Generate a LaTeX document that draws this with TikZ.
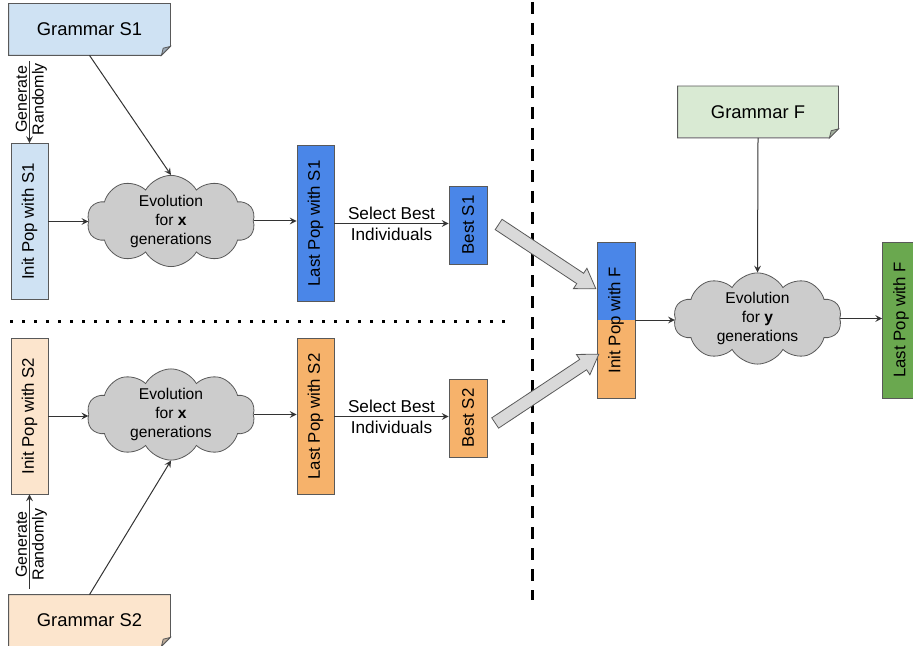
\documentclass[tikz,border=0pt]{standalone}
\usepackage{fontspec}
\usepackage{graphicx}
\setmainfont{Liberation Sans}
\usetikzlibrary{shapes.symbols,shapes.arrows}

\definecolor{blueL}{HTML}{CFE2F3}
\definecolor{orangeL}{HTML}{FCE5CD}
\definecolor{greenL}{HTML}{D9EAD3}
\definecolor{blueM}{HTML}{4A86E8}
\definecolor{orangeM}{HTML}{F6B26B}
\definecolor{greenM}{HTML}{6AA84F}
\definecolor{cloudgray}{HTML}{CCCCCC}
\definecolor{fatgray}{HTML}{D9D9D9}
\definecolor{edge}{HTML}{595959}

\begin{document}
\begin{tikzpicture}[x=0.5pt,y=-0.5pt,>=stealth,
  grammar/.style={minimum width=80.5pt,minimum height=25.5pt,inner sep=0pt,font=\fontsize{9.2}{11}\selectfont},
  pop/.style={draw=edge,minimum width=18.5pt,minimum height=78pt,inner sep=0pt,font=\fontsize{8.4}{10}\selectfont},
  best/.style={pop,minimum width=19pt,minimum height=39pt},
  evo/.style={cloud,draw=edge,fill=cloudgray,cloud puffs=10,cloud puff arc=120,cloud ignores aspect,
    minimum width=84pt,minimum height=42.5pt,inner sep=0pt,align=center,font=\fontsize{7.8}{9.5}\selectfont},
  link/.style={->,draw=black!80,line width=0.5pt},
  fat/.style={single arrow,draw=edge,fill=fatgray,inner xsep=0pt,inner ysep=2.9pt,single arrow head extend=3pt,
    single arrow tip angle=66,sloped,midway},
  pick/.style={align=center,font=\fontsize{8.6}{10.4}\selectfont},
  gen/.style={inner sep=1pt,font=\fontsize{8}{9.6}\selectfont}
]
\useasboundingbox (0,0) rectangle (913,646);

% The grammars
\node[grammar,fill=blueL] (gs1) at (89.5,29.5) {Grammar S1};
\node[grammar,fill=orangeL] (gs2) at (89.5,620.5) {Grammar S2};
\node[grammar,fill=greenL,minimum width=80pt] (gf) at (758,112) {Grammar F};

\foreach \g/\c in {gs1/blueL,gs2/orangeL,gf/greenL}
{
	\fill[white] ([xshift=-4.5pt]\g.south east) -- (\g.south east) -- ([yshift=4.5pt]\g.south east) -- cycle;
	\draw[edge] (\g.north west) -- (\g.north east) -- ([yshift=4.5pt]\g.south east)
		-- ([xshift=-4.5pt]\g.south east) -- (\g.south west) -- cycle;
	\filldraw[draw=edge,fill=\c!75!black] ([yshift=4.5pt]\g.south east) -- ([xshift=-4.5pt]\g.south east)
		-- ([xshift=-3.6pt,yshift=3.6pt]\g.south east) -- cycle;
}

% Upper run with S1
\node[pop,fill=blueL] (ips1) at (29.5,221.5) {\rotatebox{90}{Init Pop with S1}};
\node[evo] (cl1) at (171,221) {Evolution\\for \textbf{x}\\generations};
\node[pop,fill=blueM] (lps1) at (315.5,223.5) {\rotatebox{90}{Last Pop with S1}};
\node[best,fill=blueM] (bs1) at (468,225) {\rotatebox{90}{Best S1}};

% Lower run with S2
\node[pop,fill=orangeL] (ips2) at (29.5,416) {\rotatebox{90}{Init Pop with S2}};
\node[evo] (cl2) at (171,414.5) {Evolution\\for \textbf{x}\\generations};
\node[pop,fill=orangeM] (lps2) at (315.5,416.5) {\rotatebox{90}{Last Pop with S2}};
\node[best,fill=orangeM] (bs2) at (468,418) {\rotatebox{90}{Best S2}};

% Final run with F
\node[fill=blueM,minimum width=19pt,minimum height=39pt,inner sep=0pt] (ipfa) at (616,281) {};
\node[fill=orangeM,minimum width=19pt,minimum height=39pt,inner sep=0pt] (ipfb) at (616,359) {};
\node[pop,minimum width=19pt] (ipf) at (616,320) {\rotatebox{90}{Init Pop with F}};
\node[evo] (cl3) at (757.5,318.5) {Evolution\\for \textbf{y}\\generations};
\node[pop,fill=greenM] (lpf) at (901,320) {\rotatebox{90}{Last Pop with F}};

% The separators
\draw[line width=1.5pt,dash pattern=on 6pt off 4.5pt] (532,2) -- (532,600);
\draw[line width=1.5pt,dash pattern=on 1.5pt off 4.5pt] (10,321) -- (512,321);

% Generate randomly
\draw[link,shorten <=3pt] (gs1.south -| ips1) -- (ips1)
	node[gen,midway,left] {\rotatebox{90}{Generate}}
	node[gen,midway,right] {\rotatebox{90}{Randomly}};
\draw[link,shorten <=3pt] (gs2.north -| ips2) -- (ips2)
	node[gen,midway,left] {\rotatebox{90}{Generate}}
	node[gen,midway,right] {\rotatebox{90}{Randomly}};

% Grammars into the evolution
\draw[link] (gs1.south) -- (cl1.north);
\draw[link] (gs2.north) -- (cl2.south);
\draw[link] (gf.south) -- (cl3.north);

% The flow
\draw[link] (ips1.east) -- (ips1.east -| cl1.west);
\draw[link] (cl1.east) -- (cl1.east -| lps1.west);
\draw[link] (lps1.east) -- (lps1.east -| bs1.west) node[midway,pick] {Select Best\\Individuals};
\draw[link] (ips2.east) -- (ips2.east -| cl2.west);
\draw[link] (cl2.east) -- (cl2.east -| lps2.west);
\draw[link] (lps2.east) -- (lps2.east -| bs2.west) node[midway,pick] {Select Best\\Individuals};
\draw[link] (ipf.east) -- (ipf.east -| cl3.west);
\draw[link] (cl3.east) -- (cl3.east -| lpf.west);

% Best individuals into the final population
\path ([xshift=3.75pt,yshift=1.5pt]bs1.east) -- ([xshift=-2.5pt,yshift=-2.5pt]ipfa.west)
	node[fat,minimum height=58.3pt] (fa1) {};
\path ([xshift=2pt,yshift=-3.75pt]bs2.east) -- ([xshift=-1pt,yshift=1pt]ipfb.west)
	node[fat,minimum height=62.2pt] (fa2) {};

\end{tikzpicture}
\end{document}
